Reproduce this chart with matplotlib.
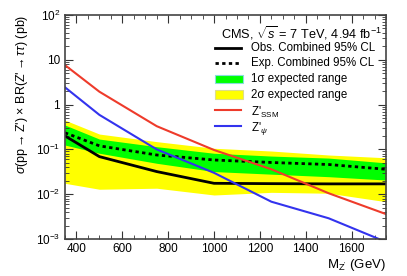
import numpy as np
import matplotlib
matplotlib.use('Agg')
from matplotlib import pyplot as plt
from matplotlib.ticker import FixedLocator, FuncFormatter, LogLocator, NullFormatter
from matplotlib.patches import Rectangle

matplotlib.rcParams['font.family'] = ['Liberation Sans', 'DejaVu Sans']
matplotlib.rcParams['mathtext.fontset'] = 'custom'
matplotlib.rcParams['mathtext.rm'] = 'Liberation Sans'
matplotlib.rcParams['mathtext.it'] = 'Liberation Sans:italic'
matplotlib.rcParams['mathtext.sf'] = 'Liberation Sans'

# limits (pb)
mass = [350, 500, 750, 1000, 1250, 1500, 1750]
obs = [0.20, 0.069, 0.032, 0.0175, 0.0172, 0.0170, 0.0170]
exp = [0.235, 0.12, 0.075, 0.058, 0.051, 0.046, 0.036]
one_lo = [0.125, 0.082, 0.049, 0.032, 0.028, 0.0246, 0.0207]
one_hi = [0.35, 0.17, 0.115, 0.082, 0.071, 0.064, 0.050]
two_lo = [0.0175, 0.0129, 0.0136, 0.0096, 0.011, 0.0105, 0.0068]
two_hi = [0.45, 0.22, 0.149, 0.106, 0.092, 0.075, 0.065]
ssm = [7.6, 1.94, 0.33, 0.097, 0.036, 0.0105, 0.0036]
psi = [2.43, 0.59, 0.10, 0.030, 0.0068, 0.0029, 0.00086]

fig = plt.figure(figsize=(4.07, 2.76), dpi=100)
ax = fig.add_axes([65/407, 1-239/276, 321/407, 224/276])

dotted = (0, (1.2, 1.2))
ax.fill_between(mass, two_lo, two_hi, color='#ffff00', lw=0)
ax.fill_between(mass, one_lo, one_hi, color='#00ff00', lw=0)
ax.plot(mass, obs, color='black', lw=2)
ax.plot(mass, exp, color='black', lw=2, ls=dotted)
ax.plot(mass, ssm, color='#ee3b2b', lw=1.5)
ax.plot(mass, psi, color='#3333ee', lw=1.5)

ax.set_yscale('log')
ax.set_xlim(350, 1750)
ax.set_ylim(1e-3, 1e2)

ax.xaxis.set_major_locator(FixedLocator(np.arange(400, 1701, 200)))
ax.xaxis.set_minor_locator(FixedLocator(np.arange(350, 1751, 50)))
ax.yaxis.set_major_locator(LogLocator(base=10, numticks=10))
ax.yaxis.set_minor_locator(LogLocator(base=10, subs=np.arange(2, 10), numticks=20))
ax.yaxis.set_minor_formatter(NullFormatter())

def ylab(v, pos):
    e = int(round(np.log10(v)))
    if e == 0:
        return '1'
    if e == 1:
        return '10'
    return r'$10^{%d}$' % e

ax.yaxis.set_major_formatter(FuncFormatter(ylab))
ax.tick_params(which='both', direction='in', top=True, right=True, labelsize=8.5, color='#333333')
ax.tick_params(which='major', length=6, width=0.8)
ax.tick_params(which='minor', length=3, width=0.6)
ax.tick_params(axis='x', pad=3)
for s in ax.spines.values():
    s.set_linewidth(1.2)
    s.set_color('#444444')

ax.set_xlabel(r"M$_{\mathrm{Z'}}$ (GeV)", loc='right', fontsize=9.5, labelpad=1)
ax.set_ylabel(r"$\sigma$(pp$\rightarrow$Z') $\times$ BR(Z'$\rightarrow\tau\tau$) (pb)",
              loc='top', fontsize=9, labelpad=4)

# legend, drawn row by row so the spacing stays even (ROOT TLegend look)
ax.text(0.486, 0.92, r"CMS, $\sqrt{s}$ = 7 TeV, 4.94 fb$^{-1}$", transform=ax.transAxes,
        fontsize=9.2, va='center', ha='left')
entries = [
    ('line', dict(color='black', lw=2), 'Obs. Combined 95% CL'),
    ('line', dict(color='black', lw=2, ls=dotted), 'Exp. Combined 95% CL'),
    ('box', dict(facecolor='#00ff00', edgecolor='#88dddd', lw=0.8), '1σ expected range'),
    ('box', dict(facecolor='#ffff00', edgecolor='#dddd88', lw=0.8), '2σ expected range'),
    ('line', dict(color='#ee3b2b', lw=1.5), r"Z'$_{\mathrm{SSM}}$"),
    ('line', dict(color='#3333ee', lw=1.5), r"Z'$_{\psi}$"),
]
x0, x1, xt = 0.467, 0.548, 0.579
top, step = 0.853, 0.0694
for i, (kind, style, label) in enumerate(entries):
    yy = top - i * step
    if kind == 'line':
        ax.plot([x0, x1], [yy, yy], transform=ax.transAxes, clip_on=False, **style)
    else:
        ax.add_patch(Rectangle((x0, yy - 0.02), x1 - x0 + 0.006, 0.04,
                               transform=ax.transAxes, clip_on=False, **style))
    ax.text(xt, yy, label, transform=ax.transAxes, fontsize=8.3, va='center_baseline'
            if kind == 'line' and '$' in label else 'center', ha='left')

fig.savefig('out.png', dpi=100)
